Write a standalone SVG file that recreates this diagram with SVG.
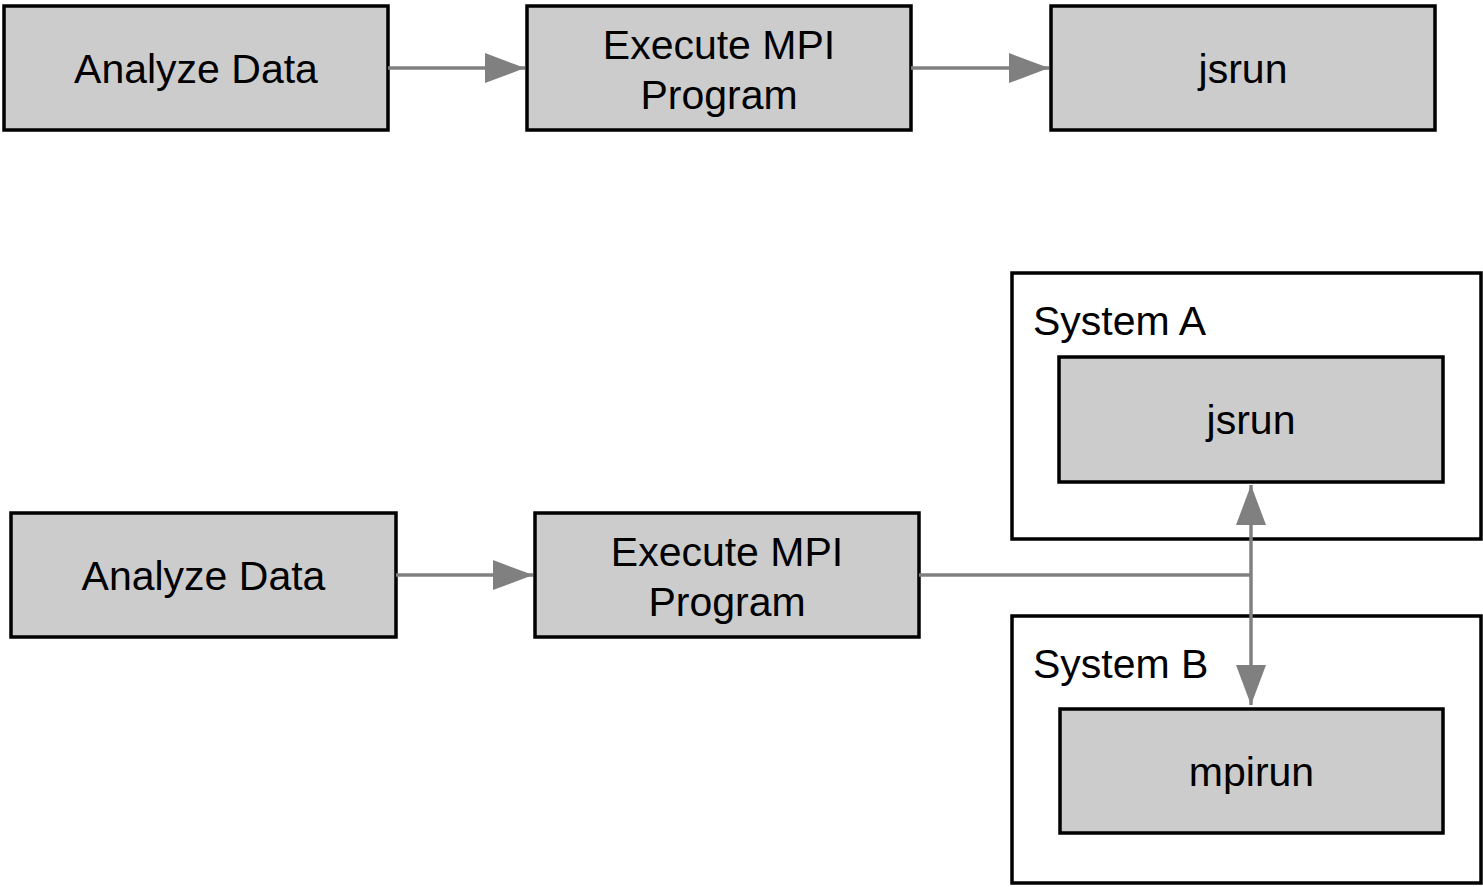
<svg xmlns="http://www.w3.org/2000/svg" width="1483" height="887" viewBox="0 0 1483 887">
<defs>
<style>
.box{fill:#cccccc;stroke:#000;stroke-width:3.5}
.frame{fill:#ffffff;stroke:#000;stroke-width:3.5}
.t{font-family:"Liberation Sans",Arial,Helvetica,sans-serif;font-size:41px;fill:#000}
.c{text-anchor:middle}
.edge{fill:none;stroke:#808080;stroke-width:3.5}
</style>
<marker id="ah" markerUnits="userSpaceOnUse" markerWidth="42" markerHeight="32" refX="40" refY="16" orient="auto">
<path d="M0,1 L40,16 L0,31 Z" fill="#808080"/>
</marker>
</defs>
<rect width="1483" height="887" fill="#ffffff"/>
<g id="top-analyze"><rect class="box" x="4" y="6" width="384" height="124"/><text class="t c" x="196" y="83">Analyze Data</text></g>
<g id="top-execute"><rect class="box" x="527" y="6" width="384" height="124"/><text class="t c" x="719" y="59">Execute MPI</text><text class="t c" x="719" y="109">Program</text></g>
<g id="top-jsrun"><rect class="box" x="1051" y="6" width="384" height="124"/><text class="t c" x="1243" y="83">jsrun</text></g>
<g id="systemA"><rect class="frame" x="1012" y="273" width="469" height="266"/><text class="t" x="1033" y="335">System A</text></g>
<g id="systemA-jsrun"><rect class="box" x="1059" y="357" width="384" height="125"/><text class="t c" x="1251" y="434">jsrun</text></g>
<g id="systemB"><rect class="frame" x="1012" y="616" width="469" height="267"/><text class="t" x="1033" y="678">System B</text></g>
<g id="systemB-mpirun"><rect class="box" x="1060" y="709" width="383" height="124"/><text class="t c" x="1251.5" y="786">mpirun</text></g>
<g id="bottom-analyze"><rect class="box" x="11" y="513" width="385" height="124"/><text class="t c" x="203.5" y="590">Analyze Data</text></g>
<g id="bottom-execute"><rect class="box" x="535" y="513" width="384" height="124"/><text class="t c" x="727" y="566">Execute MPI</text><text class="t c" x="727" y="616">Program</text></g>
<g id="connectors">
<line class="edge" x1="388" y1="68" x2="525" y2="68" marker-end="url(#ah)"/>
<line class="edge" x1="911" y1="68" x2="1049" y2="68" marker-end="url(#ah)"/>
<line class="edge" x1="396" y1="575" x2="533" y2="575" marker-end="url(#ah)"/>
<polyline class="edge" points="919,575 1251,575"/>
<line class="edge" x1="1251" y1="575" x2="1251" y2="485" marker-end="url(#ah)"/>
<line class="edge" x1="1251" y1="575" x2="1251" y2="705" marker-end="url(#ah)"/>
</g>
</svg>
